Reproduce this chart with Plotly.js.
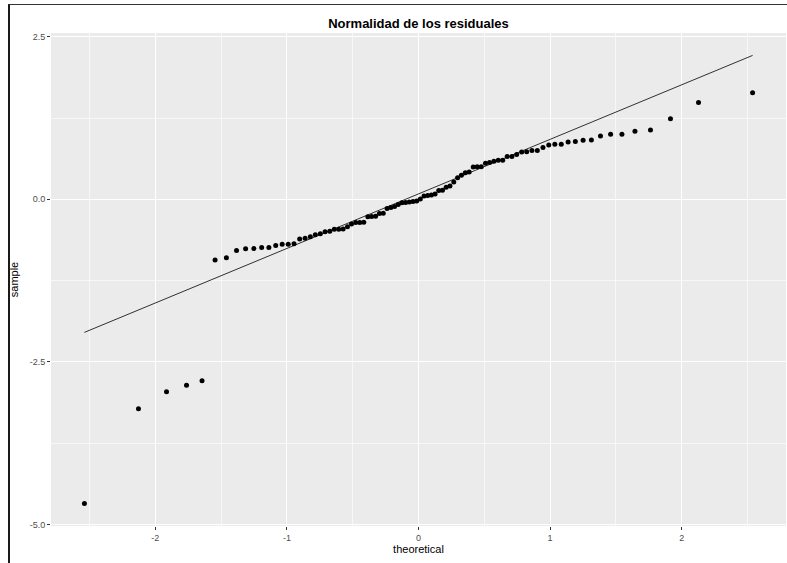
<!DOCTYPE html>
<html>
<head>
<meta charset="utf-8">
<script src="https://cdn.plot.ly/plotly-3.0.1.min.js"></script>
<style>
  html, body { margin: 0; padding: 0; background: #fff; }
  #wrap { position: relative; width: 787px; height: 563px; }
  #chart { position: absolute; left: 0; top: 0; width: 787px; height: 563px; }
  #frame { position: absolute; left: 8px; top: 4px; width: 779px; height: 559px;
           border-top: 1px solid #333; border-left: 2px solid #1a1a1a; box-sizing: border-box;
           pointer-events: none; }
</style>
</head>
<body>
<div id="wrap">
  <div id="chart"></div>
  <div id="frame"></div>
</div>
<script>
// Theoretical normal quantiles (n = 90), read from the x positions
const theoretical = [-2.539, -2.128, -1.915, -1.763, -1.645, -1.546, -1.460, -1.383, -1.314, -1.251,
  -1.192, -1.137, -1.085, -1.036, -0.990, -0.946, -0.903, -0.862, -0.822, -0.784,
  -0.746, -0.710, -0.674, -0.640, -0.606, -0.573, -0.540, -0.509, -0.477, -0.446,
  -0.416, -0.385, -0.356, -0.326, -0.297, -0.268, -0.239, -0.210, -0.182, -0.154,
  -0.126, -0.098, -0.070, -0.042, -0.014, 0.014, 0.042, 0.070, 0.098, 0.126,
  0.154, 0.182, 0.210, 0.239, 0.268, 0.297, 0.326, 0.356, 0.385, 0.416,
  0.446, 0.477, 0.509, 0.540, 0.573, 0.606, 0.640, 0.674, 0.710, 0.746,
  0.784, 0.822, 0.862, 0.903, 0.946, 0.990, 1.036, 1.085, 1.137, 1.192,
  1.251, 1.314, 1.383, 1.460, 1.546, 1.645, 1.763, 1.915, 2.128, 2.539];

// Sorted residuals (sample quantiles)
const sample = [-4.68, -3.22, -2.96, -2.86, -2.79, -0.935, -0.90, -0.787, -0.762, -0.758,
  -0.742, -0.740, -0.71, -0.692, -0.690, -0.685, -0.61, -0.60, -0.577, -0.546,
  -0.53, -0.50, -0.49, -0.462, -0.46, -0.455, -0.424, -0.38, -0.357, -0.355,
  -0.353, -0.268, -0.264, -0.26, -0.218, -0.216, -0.14, -0.126, -0.11, -0.08,
  -0.055, -0.05, -0.042, -0.034, -0.028, 0.005, 0.05, 0.06, 0.066, 0.08,
  0.135, 0.138, 0.186, 0.203, 0.265, 0.33, 0.37, 0.41, 0.42, 0.497,
  0.499, 0.50, 0.554, 0.565, 0.585, 0.60, 0.602, 0.657, 0.66, 0.688,
  0.728, 0.73, 0.75, 0.752, 0.795, 0.835, 0.846, 0.848, 0.88, 0.888,
  0.908, 0.912, 0.974, 1.0, 1.002, 1.046, 1.066, 1.24, 1.49, 1.64];

// QQ reference line end points
const lineX = [-2.539, 2.539];
const lineY = [-2.047, 2.213];

// Tick labels
const xTickVals = [-2, -1, 0, 1, 2];
const xTickText = ["-2", "-1", "0", "1", "2"];
const yTickVals = [-5, -2.5, 0, 2.5];
const yTickText = ["-5.0", "-2.5", "0.0", "2.5"];
const xMinorVals = [-2.5, -1.5, -0.5, 0.5, 1.5, 2.5];
const yMinorVals = [-3.75, -1.25, 1.25];

function expand(vals) {
  const lo = Math.min(...vals), hi = Math.max(...vals);
  const pad = (hi - lo) * 0.05;
  return [lo - pad, hi + pad];
}
const xRange = expand(theoretical.concat(lineX));
const yRange = expand(sample.concat(lineY));

const FONT = 'Liberation Sans, Arial, sans-serif';

const traces = [
  {
    type: 'scatter', mode: 'markers',
    x: theoretical, y: sample,
    marker: { color: '#000000', size: 5 },
    hoverinfo: 'x+y', showlegend: false
  },
  {
    type: 'scatter', mode: 'lines',
    x: lineX, y: lineY,
    line: { color: '#000000', width: 0.8 },
    hoverinfo: 'skip', showlegend: false
  }
];

const axisCommon = {
  showgrid: true, gridcolor: '#FFFFFF', gridwidth: 1.1,
  zeroline: false, showline: false,
  ticks: 'outside', ticklen: 3, tickwidth: 1, tickcolor: '#333333',
  tickfont: { family: FONT, size: 9, color: '#4D4D4D' },
  automargin: false
};

const layout = {
  width: 787, height: 563,
  margin: { l: 51, r: 1, t: 33, b: 37 },
  paper_bgcolor: '#FFFFFF',
  plot_bgcolor: '#EBEBEB',
  font: { family: FONT, color: '#000000' },
  showlegend: false,
  title: {
    text: '<b>Normalidad de los residuales</b>',
    font: { family: FONT, size: 13, color: '#000000' },
    x: 0.5, xref: 'paper', xanchor: 'center',
    y: 1 - 23 / 563, yref: 'container', yanchor: 'middle'
  },
  xaxis: Object.assign({}, axisCommon, {
    range: xRange,
    tickmode: 'array', tickvals: xTickVals, ticktext: xTickText,
    minor: { tickmode: 'array', tickvals: xMinorVals, showgrid: true, gridcolor: '#FFFFFF', gridwidth: 0.6, ticks: '' },
    title: { text: 'theoretical', font: { family: FONT, size: 11, color: '#000000' }, standoff: 0 }
  }),
  yaxis: Object.assign({}, axisCommon, {
    range: yRange,
    tickmode: 'array', tickvals: yTickVals, ticktext: yTickText,
    minor: { tickmode: 'array', tickvals: yMinorVals, showgrid: true, gridcolor: '#FFFFFF', gridwidth: 0.6, ticks: '' },
    title: { text: 'sample', font: { family: FONT, size: 11, color: '#000000' }, standoff: 8 }
  })
};

Plotly.newPlot('chart', traces, layout, { displayModeBar: false, staticPlot: true });
</script>
</body>
</html>
